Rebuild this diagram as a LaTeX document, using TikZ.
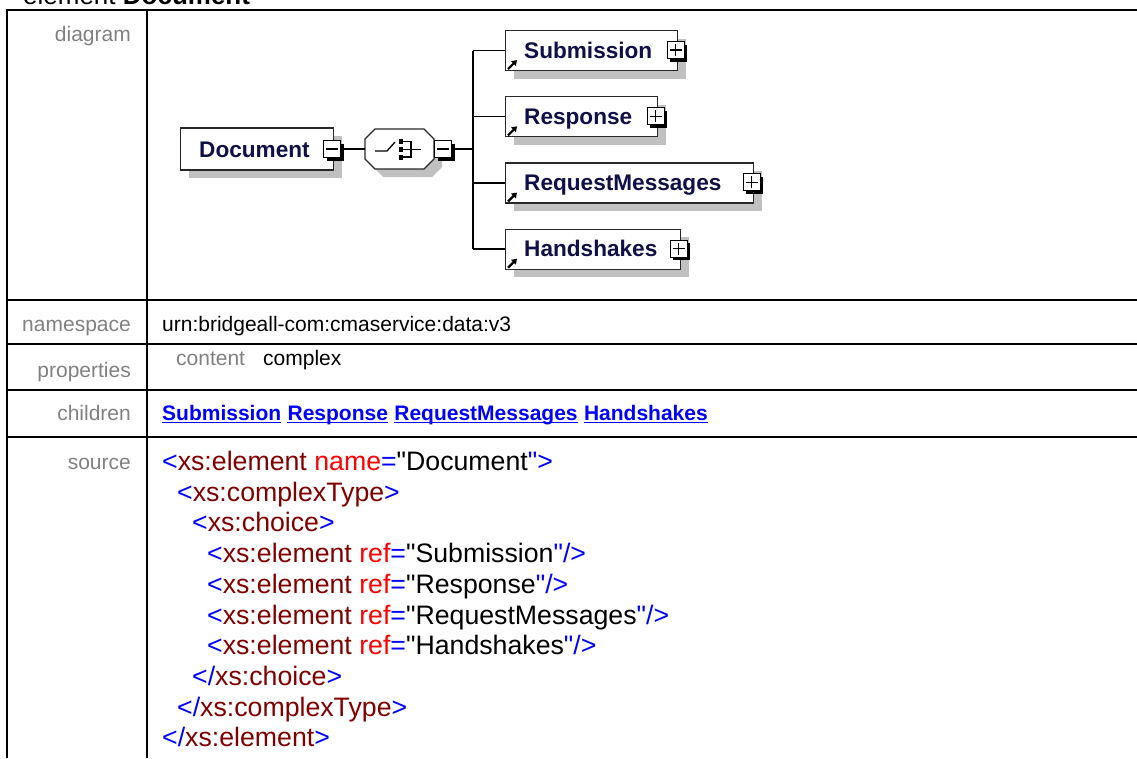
\documentclass[tikz,border=0pt]{standalone}
\usepackage{fontspec}
\setmainfont{Liberation Sans}
\usetikzlibrary{shadows,calc,arrows.meta}
\definecolor{xblue}{RGB}{0,0,255}
\definecolor{xmaroon}{RGB}{128,0,0}
\definecolor{xred}{RGB}{255,0,0}
\definecolor{lblgray}{RGB}{128,128,128}
\definecolor{shgray}{RGB}{192,192,192}
\definecolor{dgmtext}{RGB}{16,16,72}
\definecolor{boxline}{RGB}{40,40,40}
\newcommand\srcB[1]{\textcolor{xblue}{#1}}
\newcommand\srcM[1]{\textcolor{xmaroon}{#1}}
\newcommand\srcR[1]{\textcolor{xred}{#1}}
\newcommand\dq{\XeTeXglyph\XeTeXcharglyph"22\relax}
\begin{document}
\begin{tikzpicture}[x=1pt,y=-1pt,
  tbl/.style={line width=2pt, black},
  lbl/.style={inner sep=0, anchor=base east, text=lblgray, font=\fontsize{21}{25}\selectfont},
  txt/.style={inner sep=0, anchor=base west, font=\fontsize{21}{25}\selectfont},
  srctxt/.style={inner sep=0, anchor=base west, font=\fontsize{26.7}{30.7}\selectfont},
  lnk/.style={inner sep=0, anchor=base west, text=xblue, font=\fontsize{21}{25}\selectfont\bfseries},
  uline/.style={draw=xblue, line width=1.5pt},
  elbox/.style={draw=boxline, line width=1.2pt, fill=white, rectangle, inner sep=0, anchor=west, minimum height=40pt,
    general shadow={fill=shgray, shadow xshift=8pt, shadow yshift=-8pt}},
  eltext/.style={inner sep=0, anchor=base west, text=dgmtext, font=\fontsize{22.6}{26}\selectfont\bfseries},
  expbox/.style={draw=black, line width=1.1pt, fill=white, minimum size=17pt, inner sep=0,
    general shadow={fill=black, shadow xshift=3.2pt, shadow yshift=-3.2pt}},
  sign/.style={line width=1.3pt, black},
  conn/.style={line width=1.4pt, black},
  refarrow/.style={line width=2.2pt, black, -{Triangle[length=5pt,width=6.5pt]}}
]
\useasboundingbox (0,0) rectangle (1137,758);

% ---- title (cut off by page top)
\node[inner sep=0, anchor=base west, font=\fontsize{26}{30}\selectfont] (title) at (23,4) {element \textbf{Document}};

% ---- table grid
\draw[tbl] (7,10) -- (1137,10);
\draw[tbl] (7,9) -- (7,758);
\draw[tbl] (147,9) -- (147,758);
\draw[tbl] (7,300) -- (1137,300);
\draw[tbl] (7,344) -- (1137,344);
\draw[tbl] (7,390) -- (1137,390);
\draw[tbl] (7,437) -- (1137,437);

% ---- labels
\node[lbl] (ldiag) at (131,41) {diagram};
\node[lbl] (lns) at (131,331) {namespace};
\node[lbl] (lprop) at (131,377) {properties};
\node[lbl] (lch) at (131,420) {children};
\node[lbl] (lsrc) at (131,469) {source};

% ---- namespace / properties
\node[txt] (ns) at (162,331) {urn:bridgeall-com:cmaservice:data:v3};
\node[txt, text=lblgray] (pcont) at (176,365) {content};
\node[txt] (pcomp) at (263,365) {complex};

% ---- children links
\node[lnk] (c1) at (162,420) {Submission};
\node[lnk] (c2) at ($(c1.base east)+(6,0)$) {Response};
\node[lnk] (c3) at ($(c2.base east)+(6,0)$) {RequestMessages};
\node[lnk] (c4) at ($(c3.base east)+(6,0)$) {Handshakes};
\foreach \w in {c1,c2,c3,c4}{
  \draw[uline] ($(\w.base west)+(0,2.6)$) -- ($(\w.base east)+(0,2.6)$);
}

% ---- source
\node[srctxt] (s1) at (162,470.5) {\srcB{<}\srcM{xs:element} \srcR{name}\srcB{=}\dq Document\srcB{\dq>}};
\node[srctxt] (s2) at (177,501.2) {\srcB{<}\srcM{xs:complexType}\srcB{>}};
\node[srctxt] (s3) at (192,531.9) {\srcB{<}\srcM{xs:choice}\srcB{>}};
\node[srctxt] (s4) at (207,562.6) {\srcB{<}\srcM{xs:element} \srcR{ref}\srcB{=}\dq Submission\srcB{\dq/>}};
\node[srctxt] (s5) at (207,593.3) {\srcB{<}\srcM{xs:element} \srcR{ref}\srcB{=}\dq Response\srcB{\dq/>}};
\node[srctxt] (s6) at (207,624) {\srcB{<}\srcM{xs:element} \srcR{ref}\srcB{=}\dq RequestMessages\srcB{\dq/>}};
\node[srctxt] (s7) at (207,654.7) {\srcB{<}\srcM{xs:element} \srcR{ref}\srcB{=}\dq Handshakes\srcB{\dq/>}};
\node[srctxt] (s8) at (192,685.4) {\srcB{</}\srcM{xs:choice}\srcB{>}};
\node[srctxt] (s9) at (177,716.1) {\srcB{</}\srcM{xs:complexType}\srcB{>}};
\node[srctxt] (s10) at (162,746.8) {\srcB{</}\srcM{xs:element}\srcB{>}};

% ---- diagram: root element
\node[elbox, minimum width=153pt, minimum height=42pt] (doc) at (180,149) {};
\node[eltext] (doct) at ($(doc.west)+(19,8)$) {Document};
\node[expbox] (docx) at ($(doc.east)+(-2,0)$) {};
\draw[sign] ($(docx.west)+(3,0)$) -- ($(docx.east)+(-3,0)$);

% ---- choice compositor
\node[minimum width=69pt, minimum height=40pt, inner sep=0, anchor=west] (choice) at (365,149) {};
\fill[shgray, shift={(8,8)}] (375,129) -- (424,129) -- (434,139) -- (434,159) -- (424,169) -- (375,169) -- (365,159) -- (365,139) -- cycle;
\draw[boxline, line width=1.2pt, fill=white] (375,129) -- (424,129) -- (434,139) -- (434,159) -- (424,169) -- (375,169) -- (365,159) -- (365,139) -- cycle;
\draw[line width=1.3pt] (375,151) -- (387,151) -- (395,142);
\fill (398.5,138.5) rectangle (403,143.5);
\fill (398.5,146.5) rectangle (403,151.5);
\fill (398.5,154.5) rectangle (403,159.5);
\draw[line width=1.3pt] (403,141.5) -- (411,141.5) -- (411,157) -- (403,157);
\draw[line width=1.3pt] (403,149.5) -- (421,149.5);
\node[expbox] (chx) at ($(choice.east)+(8.5,0)$) {};
\draw[sign] ($(chx.west)+(3,0)$) -- ($(chx.east)+(-3,0)$);

% ---- children elements
\node[elbox, minimum width=172pt] (sub) at (505,50.5) {};
\node[elbox, minimum width=152pt] (resp) at (505,116.7) {};
\node[elbox, minimum width=248pt] (reqm) at (505,182.9) {};
\node[elbox, minimum width=175pt] (hand) at (505,249.1) {};
\foreach \b/\t in {sub/Submission, resp/Response, reqm/RequestMessages, hand/Handshakes}{
  \node[eltext] (\b t) at ($(\b.west)+(19,7.7)$) {\t};
  \node[expbox] (\b x) at ($(\b.east)+(-2.5,-0.5)$) {};
  \draw[sign] ($(\b x.west)+(3,0)$) -- ($(\b x.east)+(-3,0)$);
  \draw[sign] ($(\b x.north)+(0,3)$) -- ($(\b x.south)+(0,-3)$);
  \draw[refarrow] ($(\b.south west)+(3,-2)$) -- ($(\b.south west)+(12,-11)$);
}

% ---- connectors
\coordinate (bus) at (473,149);
\draw[conn] (docx.east) -- (choice.west);
\draw[conn] (chx.east) -- (bus);
\draw[conn] (bus |- sub.west) -- (bus |- hand.west);
\draw[conn] (bus |- sub.west) -- (sub.west);
\draw[conn] (bus |- resp.west) -- (resp.west);
\draw[conn] (bus |- reqm.west) -- (reqm.west);
\draw[conn] (bus |- hand.west) -- (hand.west);
\end{tikzpicture}
\end{document}
